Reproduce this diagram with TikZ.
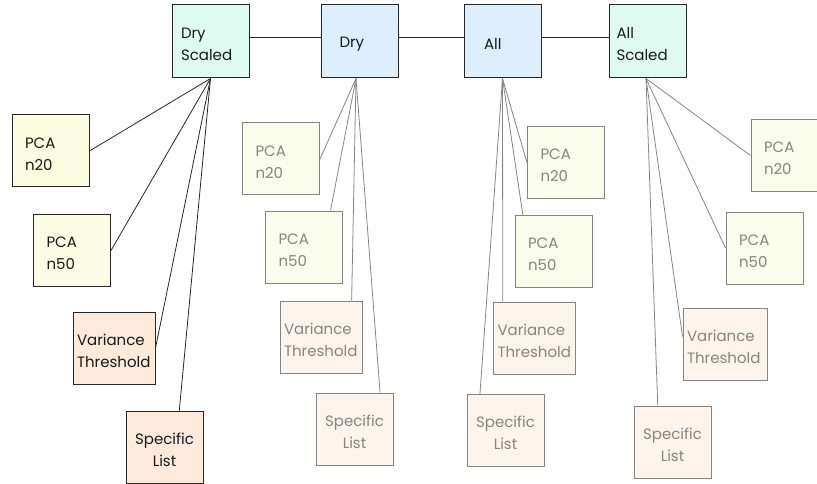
\documentclass[tikz,border=0pt]{standalone}
\usepackage{fontspec}
\setmainfont{Poppins}
\definecolor{scaledfill}{HTML}{DDFBF0}
\definecolor{rawfill}{HTML}{DDEFFC}
\definecolor{pcadark}{HTML}{FAFDE2}
\definecolor{pcalight}{HTML}{FAFDEC}
\definecolor{peachdark}{HTML}{FDEADB}
\definecolor{peachlight}{HTML}{FEF4EC}
\definecolor{fadeline}{HTML}{858585}
\tikzset{
  box/.style={draw=black!85, line width=1pt, text=black!90, inner ysep=0pt, minimum height=72pt, align=left,
    execute at begin node={\leavevmode\rule{0pt}{16.5pt}}},
  faded/.style={draw=fadeline, text=fadeline},
  topbox/.style={box, minimum height=73pt, text width=59pt, inner xsep=9pt},
  pca/.style={box, text width=51pt, inner xsep=13pt},
  varbox/.style={box, text width=74pt, inner xsep=4pt},
  spec/.style={box, text width=65pt, inner xsep=6pt, align=center},
  link/.style={line width=0.8pt, draw=black!85},
  fadelink/.style={line width=0.8pt, draw=fadeline}
}
\begin{document}
\begin{tikzpicture}[x=1pt,y=-1pt,font=\fontsize{15}{22}\selectfont]
\useasboundingbox (0,0) rectangle (817,484);
\clip (0,0) rectangle (817,484);
% top row
\node[topbox, fill=scaledfill] (drys) at (210.5,41.5) {Dry\\Scaled};
\node[topbox, fill=rawfill, text width=41pt, inner xsep=18pt] (dry) at (360,41.5) {Dry};
\node[topbox, fill=rawfill, text width=37pt, inner xsep=20pt] (all) at (502.5,41.5) {All};
\node[topbox, fill=scaledfill, text width=63pt, inner xsep=7pt] (alls) at (648,41.5) {All\\Scaled};
\draw[link] ([yshift=4pt]drys.east) -- ([yshift=4pt]dry.west);
\draw[link] ([yshift=4pt]dry.east) -- ([yshift=4pt]all.west);
\draw[link] ([yshift=4pt]all.east) -- ([yshift=4pt]alls.west);
% dry scaled
\node[pca, fill=pcadark] (dsa) at (50.5,151) {PCA\\n20};
\node[pca, fill=pcadark] (dsb) at (72,250.5) {PCA\\n50};
\node[varbox, fill=peachdark] (dsc) at (114,348) {Variance\\Threshold};
\node[spec, fill=peachdark] (dsd) at (164.5,447.5) {Specific\\List};
\draw[link] (drys.south) -- (dsa.east);
\draw[link] (drys.south) -- (dsb.east);
\draw[link] (drys.south) -- (dsc.east);
\draw[link] (drys.south) -- (dsd.68);
% dry
\node[pca, faded, fill=pcalight] (dra) at (281,159) {PCA\\n20};
\node[pca, faded, fill=pcalight] (drb) at (304,247) {PCA\\n50};
\node[varbox, faded, fill=peachlight] (drc) at (321,337) {Variance\\Threshold};
\node[spec, faded, fill=peachlight] (drd) at (354.5,429) {Specific\\List};
\draw[fadelink] ([xshift=-4pt]dry.south) -- (dra.east);
\draw[fadelink] ([xshift=-4pt]dry.south) -- (drb.54);
\draw[fadelink] ([xshift=-4pt]dry.south) -- (drc.50);
\draw[fadelink] ([xshift=-4pt]dry.south) -- (drd.55);
% all
\node[pca, faded, fill=pcalight] (ala) at (566,162.5) {PCA\\n20};
\node[pca, faded, fill=pcalight] (alb) at (553.5,251.5) {PCA\\n50};
\node[varbox, faded, fill=peachlight] (alc) at (534.5,338) {Variance\\Threshold};
\node[spec, faded, fill=peachlight] (ald) at (505.5,430.5) {Specific\\List};
\draw[fadelink] (all.south) -- (ala.west);
\draw[fadelink] (all.south) -- (alb.130);
\draw[fadelink] (all.south) -- (alc.131);
\draw[fadelink] (all.south) -- (ald.125);
% all scaled
\node[pca, faded, fill=pcalight] (asa) at (789.5,155.5) {PCA\\n20};
\node[pca, faded, fill=pcalight] (asb) at (764.5,248) {PCA\\n50};
\node[varbox, faded, fill=peachlight, text width=76pt] (asc) at (725,344) {Variance\\Threshold};
\node[spec, faded, fill=peachlight] (asd) at (672.5,442) {Specific\\List};
\draw[fadelink] ([xshift=-2pt]alls.south) -- (asa.west);
\draw[fadelink] ([xshift=-2pt]alls.south) -- (asb.west);
\draw[fadelink] ([xshift=-2pt]alls.south) -- (asc.170);
\draw[fadelink] ([xshift=-2pt]alls.south) -- (asd.112);
\end{tikzpicture}
\end{document}
